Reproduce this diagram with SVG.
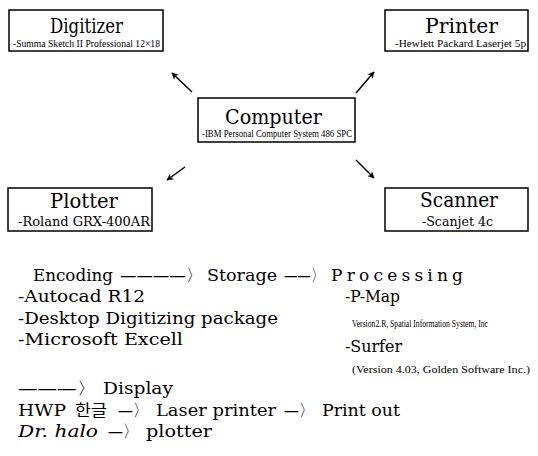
<svg xmlns="http://www.w3.org/2000/svg" width="538" height="456" viewBox="0 0 538 456">
<defs>
<marker id="ah" viewBox="0 0 10 10" refX="9" refY="5" markerWidth="7" markerHeight="7" orient="auto" markerUnits="userSpaceOnUse">
<path d="M0,0 L10,5 L0,10 L3,5 Z" fill="#000"/>
</marker>
</defs>
<style>
.box{fill:#fff;stroke:#000;stroke-width:1.5}
.title{font-family:"DejaVu Serif","Liberation Serif",serif;font-size:20px;fill:#000}
.sub{font-family:"Liberation Serif",serif;font-size:11px;fill:#000}
.sub2{font-family:"DejaVu Serif","Liberation Serif",serif;font-size:13px;fill:#000}
.t{font-family:"DejaVu Serif","Liberation Serif",serif;font-size:17px;fill:#000}
.k{font-family:"Noto Sans CJK KR",sans-serif;font-size:16px;fill:#000}
.tiny{font-family:"Liberation Serif",serif;font-size:10px;fill:#000}
.conn{stroke:#000;stroke-width:1.5;fill:none;marker-end:url(#ah)}
</style>
<rect width="538" height="456" fill="#fff"/>
<g id="digitizer">
<rect class="box" x="9" y="10" width="154" height="41"/>
<text class="title" x="50" y="33" textLength="73" lengthAdjust="spacingAndGlyphs">Digitizer</text>
<text class="sub" x="13" y="47" textLength="147" lengthAdjust="spacingAndGlyphs">-Summa Sketch II Professional 12×18</text>
</g>
<g id="printer">
<rect class="box" x="385" y="10" width="143" height="41"/>
<text class="title" x="425" y="33" textLength="73" lengthAdjust="spacingAndGlyphs">Printer</text>
<text class="sub" x="395" y="47" textLength="131" lengthAdjust="spacingAndGlyphs">-Hewlett Packard Laserjet 5p</text>
</g>
<g id="computer">
<rect class="box" x="198" y="98" width="157" height="44"/>
<text class="title" x="225" y="124" textLength="97" lengthAdjust="spacingAndGlyphs">Computer</text>
<text class="sub" x="202" y="137" textLength="150" lengthAdjust="spacingAndGlyphs">-IBM Personal Computer System 486 SPC</text>
</g>
<g id="plotter">
<rect class="box" x="8" y="188" width="144" height="43"/>
<text class="title" x="50" y="208" textLength="68" lengthAdjust="spacingAndGlyphs">Plotter</text>
<text class="sub2" x="18" y="226" textLength="132" lengthAdjust="spacingAndGlyphs">-Roland GRX-400AR</text>
</g>
<g id="scanner">
<rect class="box" x="385" y="188" width="143" height="43"/>
<text class="title" x="420" y="207" textLength="78" lengthAdjust="spacingAndGlyphs">Scanner</text>
<text class="sub2" x="422" y="226" textLength="71" lengthAdjust="spacingAndGlyphs">-Scanjet 4c</text>
</g>
<g id="connectors">
<line class="conn" x1="192" y1="92" x2="172" y2="73"/>
<line class="conn" x1="356" y1="93" x2="374" y2="72"/>
<line class="conn" x1="185" y1="167" x2="167" y2="180"/>
<line class="conn" x1="356" y1="160" x2="374" y2="178"/>
</g>
<g id="notes">
<text class="t" x="33" y="281" textLength="80" lengthAdjust="spacingAndGlyphs">Encoding</text>
<text class="t" x="120" y="281" textLength="82" lengthAdjust="spacingAndGlyphs">————〉</text>
<text class="t" x="207" y="281" textLength="70" lengthAdjust="spacingAndGlyphs">Storage</text>
<text class="t" x="284" y="281" textLength="40" lengthAdjust="spacingAndGlyphs">——〉</text>
<text class="t" x="331" y="281" textLength="132" lengthAdjust="spacing">Processing</text>
<text class="t" x="18" y="302" textLength="127" lengthAdjust="spacingAndGlyphs">-Autocad R12</text>
<text class="t" x="18" y="324" textLength="260" lengthAdjust="spacingAndGlyphs">-Desktop Digitizing package</text>
<text class="t" x="18" y="345" textLength="165" lengthAdjust="spacingAndGlyphs">-Microsoft Excell</text>
<text class="t" x="345" y="302" textLength="55" lengthAdjust="spacingAndGlyphs">-P-Map</text>
<text class="tiny" x="352" y="327" textLength="136" lengthAdjust="spacingAndGlyphs">Version2.R, Spatial Information System, Inc</text>
<text class="t" x="345" y="352" textLength="57" lengthAdjust="spacingAndGlyphs">-Surfer</text>
<text class="tiny" x="352" y="373" textLength="178" lengthAdjust="spacingAndGlyphs">(Version 4.03, Golden Software Inc.)</text>
<text class="t" x="18" y="394" textLength="78" lengthAdjust="spacingAndGlyphs">———〉</text>
<text class="t" x="103" y="394" textLength="70" lengthAdjust="spacingAndGlyphs">Display</text>
<text class="t" x="18" y="416" textLength="48" lengthAdjust="spacingAndGlyphs">HWP</text>
<text class="k" x="75" y="416" textLength="32" lengthAdjust="spacingAndGlyphs">한글</text>
<text class="t" x="118" y="416" textLength="30" lengthAdjust="spacingAndGlyphs">—〉</text>
<text class="t" x="156" y="416" textLength="120" lengthAdjust="spacingAndGlyphs">Laser printer</text>
<text class="t" x="284" y="416" textLength="30" lengthAdjust="spacingAndGlyphs">—〉</text>
<text class="t" x="322" y="416" textLength="78" lengthAdjust="spacingAndGlyphs">Print out</text>
<text class="t" x="18" y="437" textLength="80" lengthAdjust="spacingAndGlyphs" font-style="italic">Dr. halo</text>
<text class="t" x="108" y="437" textLength="30" lengthAdjust="spacingAndGlyphs">—〉</text>
<text class="t" x="146" y="437" textLength="66" lengthAdjust="spacingAndGlyphs">plotter</text>
</g>
</svg>
